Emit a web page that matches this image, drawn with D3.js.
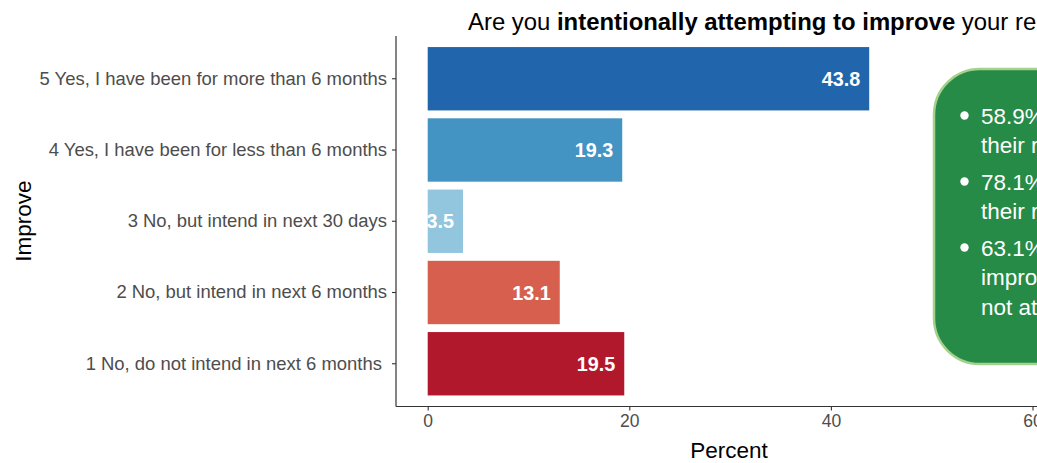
<!DOCTYPE html>
<html>
<head>
<meta charset="utf-8">
<script src="https://cdn.jsdelivr.net/npm/d3@7"></script>
<style>
  html, body { margin: 0; padding: 0; background: #ffffff; overflow: hidden; }
  svg { display: block; font-family: "Liberation Sans", Arial, sans-serif; }
  svg text { white-space: pre; }
</style>
</head>
<body>
<svg id="chart" width="1037" height="463"></svg>
<script>
// ---- data ----
const categories = [
  "5 Yes, I have been for more than 6 months",
  "4 Yes, I have been for less than 6 months",
  "3 No, but intend in next 30 days",
  "2 No, but intend in next 6 months",
  "1 No, do not intend in next 6 months "
];
const percents = [43.8, 19.3, 3.5, 13.1, 19.5];
const barColors = ["#2166ac", "#4393c3", "#92c5de", "#d6604d", "#b2182b"];
const xTicks = [0, 20, 40, 60];
const titleParts = [
  { text: "Are you ", bold: false },
  { text: "intentionally attempting to improve", bold: true },
  { text: " your relationship?", bold: false }
];
const boxItems = [
  ["58.9% of respondents are working on", "their relationship skills right now"],
  ["78.1% intend to keep on improving", "their relationship in the future"],
  ["63.1% of those who want to", "improve their relationship are", "not attempting it yet"]
];

// ---- layout ----
const FONT = "Liberation Sans, Arial, sans-serif";
const svg = d3.select("#chart");
const panelLeft = 396, panelTop = 36, panelBottom = 406.5;

const x = d3.scaleLinear().domain([0, 60]).range([427.7, 1032.5]);
const step = 71.2;
const y = d3.scaleBand().domain(categories)
  .range([panelTop + 0.1 * step, panelBottom - 0.1 * step])
  .paddingInner(0).paddingOuter(0);

// bars
const barH = step * 0.89;
svg.append("g").selectAll("rect").data(categories).join("rect")
  .attr("x", x(0))
  .attr("y", d => y(d) + y.bandwidth() / 2 - barH / 2)
  .attr("width", (d, i) => x(percents[i]) - x(0))
  .attr("height", barH)
  .attr("fill", (d, i) => barColors[i]);

// value labels
svg.append("g").selectAll("text").data(categories).join("text")
  .attr("x", (d, i) => x(percents[i]) - 9)
  .attr("y", d => y(d) + y.bandwidth() / 2)
  .attr("dy", "0.36em")
  .attr("text-anchor", "end")
  .attr("fill", "#ffffff")
  .attr("font-weight", "bold")
  .attr("font-size", 19.8)
  .text((d, i) => percents[i].toFixed(1));

// axes
const xAxis = svg.append("g").attr("transform", `translate(0,${panelBottom})`)
  .call(d3.axisBottom(x).tickValues(xTicks).tickSize(4).tickPadding(4).tickFormat(d3.format("d")));
xAxis.select(".domain").remove();
xAxis.selectAll(".tick line").attr("stroke", "#333333").attr("stroke-width", 1.1);
xAxis.selectAll(".tick text").attr("fill", "#4d4d4d").attr("font-size", 17.5).attr("font-family", FONT);

const yAxis = svg.append("g").attr("transform", `translate(${panelLeft},0)`)
  .call(d3.axisLeft(y).tickSize(4).tickPadding(5));
yAxis.select(".domain").remove();
yAxis.selectAll(".tick line").attr("stroke", "#333333").attr("stroke-width", 1.1);
yAxis.selectAll(".tick text").attr("fill", "#4d4d4d").attr("font-size", 18.45).attr("font-family", FONT);

// axis lines
svg.append("line").attr("x1", panelLeft).attr("x2", panelLeft)
  .attr("y1", panelTop).attr("y2", panelBottom).attr("stroke", "#333333").attr("stroke-width", 1.2);
svg.append("line").attr("x1", panelLeft).attr("x2", 1037)
  .attr("y1", panelBottom).attr("y2", panelBottom).attr("stroke", "#333333").attr("stroke-width", 1.2);

// axis titles
svg.append("text").attr("x", 729).attr("y", 458).attr("text-anchor", "middle")
  .attr("font-size", 22.5).attr("fill", "#000").text("Percent");
svg.append("text").attr("transform", "translate(31,221) rotate(-90)").attr("text-anchor", "middle")
  .attr("font-size", 22.5).attr("fill", "#000").text("Improve");

// title
const title = svg.append("text").attr("x", 468).attr("y", 30).attr("font-size", 23.9).attr("fill", "#000");
title.selectAll("tspan").data(titleParts).join("tspan")
  .attr("font-weight", d => d.bold ? "bold" : "normal")
  .text(d => d.text);

// annotation box
svg.append("rect").attr("x", 934).attr("y", 69).attr("width", 200).attr("height", 295)
  .attr("rx", 46).attr("ry", 46)
  .attr("fill", "#268b47").attr("stroke", "#a4d18d").attr("stroke-width", 2.5);

let yy = 123.5;
boxItems.forEach((lines, i) => {
  svg.append("circle").attr("cx", 964.5).attr("cy", yy - 8).attr("r", 4.2).attr("fill", "#ffffff");
  lines.forEach((ln, j) => {
    svg.append("text").attr("x", 981).attr("y", yy).attr("font-size", 22.5)
      .attr("fill", "#ffffff").text(ln);
    yy += (j < lines.length - 1) ? 29.5 : 36.5;
  });
});
</script>
</body>
</html>
